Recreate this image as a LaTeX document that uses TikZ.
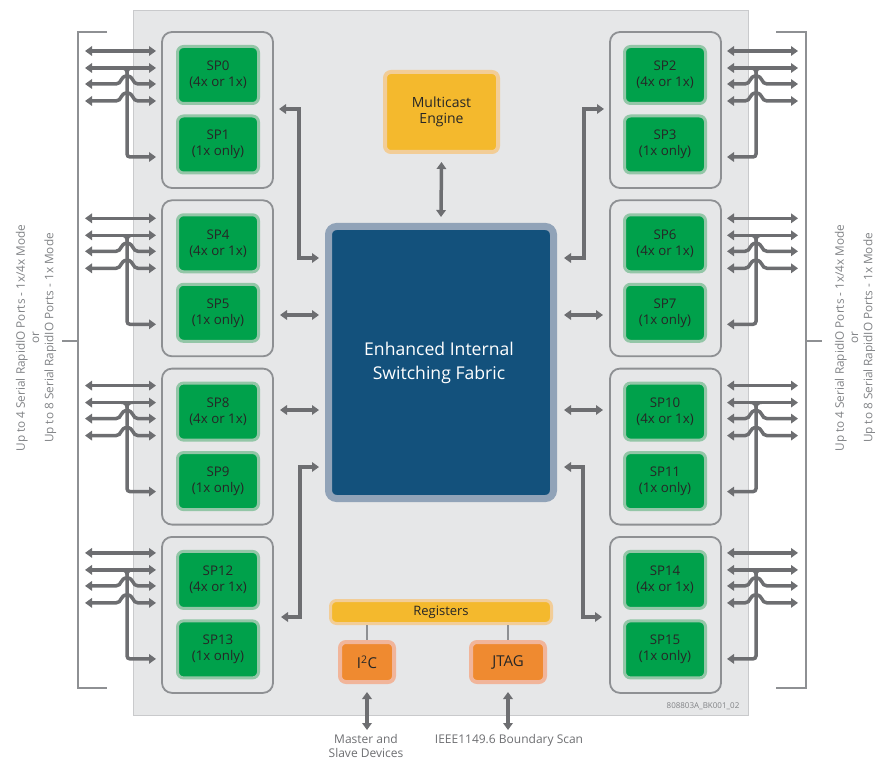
\documentclass[tikz,border=0pt]{standalone}
\usepackage{fontspec}
\setmainfont{Open Sans}
\usetikzlibrary{arrows.meta,calc}
\definecolor{bgc}{HTML}{E6E7E8}
\definecolor{bgline}{HTML}{C9CACC}
\definecolor{grpline}{HTML}{8E9093}
\definecolor{arrc}{HTML}{6D6E71}
\definecolor{greenin}{HTML}{00A14B}
\definecolor{greenbd}{HTML}{93C6A7}
\definecolor{fabin}{HTML}{13517C}
\definecolor{fabbd}{HTML}{91A3B8}
\definecolor{yelin}{HTML}{F4B92D}
\definecolor{yelbd}{HTML}{F2CD97}
\definecolor{orin}{HTML}{EF8A30}
\definecolor{orbd}{HTML}{F1B59A}
\definecolor{txtgray}{HTML}{808285}
\definecolor{darktxt}{HTML}{262626}
\newcommand\portbus[1]{%
  \draw[dconn] (85,#1) -- (156,#1);
  \draw[dconn] (85,#1+17) -- (156,#1+17);
  \draw[dconn] (85,#1+33) -- (116,#1+33) .. controls (122,#1+33) and (120,#1+25) .. (127,#1+25) .. controls (134,#1+25) and (132,#1+33) .. (138,#1+33) -- (156,#1+33);
  \draw[dconn] (85,#1+50) -- (116,#1+50) .. controls (122,#1+50) and (120,#1+42) .. (127,#1+42) .. controls (134,#1+42) and (132,#1+50) .. (138,#1+50) -- (156,#1+50);
  \draw[conn,->,rounded corners=3pt] (127,#1+17) -- (127,#1+106) -- (156,#1+106);
  \draw[conn,line width=2.5pt] (120,#1+17) .. controls (125,#1+17) and (127,#1+19) .. (127,#1+24);
  \draw[conn,line width=2.5pt] (134,#1+17) .. controls (129,#1+17) and (127,#1+19) .. (127,#1+24);
}
\begin{document}
\begin{tikzpicture}[x=1pt,y=-1pt, >={Triangle[length=7pt,width=9.5pt]},
 conn/.style={draw=arrc, line width=3.5pt},
 dconn/.style={conn,<->},
 grp/.style={draw=grpline, line width=1.8pt, rounded corners=10pt, fill=bgc, minimum width=111pt, minimum height=156pt, inner sep=0pt},
 spbox/.style={draw=greenbd, fill=greenin, line width=3pt, rounded corners=6pt, minimum width=81pt, minimum height=57pt, inner sep=0pt, align=center, text=darktxt, font=\fontsize{13.3}{16}\selectfont},
 fabbox/.style={draw=fabbd, fill=fabin, line width=7pt, rounded corners=8pt, minimum width=225pt, minimum height=272pt, inner sep=0pt},
 ylbox/.style={draw=yelbd, fill=yelin, line width=4pt, rounded corners=6pt, inner sep=0pt, align=center, text=darktxt},
 orbox/.style={draw=orbd, fill=orin, line width=4pt, rounded corners=6pt, inner sep=0pt, align=center, text=darktxt, minimum height=40pt, font=\fontsize{15}{17}\selectfont},
 bracket/.style={draw=grpline, line width=1.5pt},
 sidetxt/.style={text=txtgray, align=center, inner sep=0pt, font=\fontsize{11.8}{14.3}\selectfont},
 undertxt/.style={text=arrc, align=center, inner sep=0pt, font=\fontsize{12}{14}\selectfont}
]
\useasboundingbox (0,0) rectangle (875,759);
% background
\node[draw=bgline, fill=bgc, line width=1pt, minimum width=615pt, minimum height=705pt, inner sep=0pt] (bg) at (441,363) {};
% brackets
\draw[bracket] (107,32) -- (78,32) -- (78,688) -- (107,688);
\draw[bracket] (78,341) -- (62,341);
\draw[bracket] (776,32) -- (806,32) -- (806,688) -- (776,688);
\draw[bracket] (806,341) -- (822,341);
\node[sidetxt, rotate=90] (lblL) at (36,338) {Up to 4 Serial RapidIO Ports - 1x/4x Mode\\or\\Up to 8 Serial RapidIO Ports - 1x Mode};
\node[sidetxt, rotate=90] (lblR) at (855,338) {Up to 4 Serial RapidIO Ports - 1x/4x Mode\\or\\Up to 8 Serial RapidIO Ports - 1x Mode};
% groups and SPs
\foreach \k in {0,1,2,3} {
  \pgfmathsetmacro{\gt}{31+168.3*\k}
  \pgfmathtruncatemacro{\na}{4*\k}
  \pgfmathtruncatemacro{\nb}{4*\k+1}
  \pgfmathtruncatemacro{\nc}{4*\k+2}
  \pgfmathtruncatemacro{\nd}{4*\k+3}
  \node[grp] (gL\k) at (217.5,\gt+79) {};
  \node[grp] (gR\k) at (665.5,\gt+79) {};
  \node[spbox] (sp\na) at (218,\gt+44) {SP\na\\(4x or 1x)};
  \node[spbox] (sp\nb) at (218,\gt+113.5) {SP\nb\\(1x only)};
  \node[spbox] (sp\nc) at (665,\gt+44) {SP\nc\\(4x or 1x)};
  \node[spbox] (sp\nd) at (665,\gt+113.5) {SP\nd\\(1x only)};
}
% port buses
\foreach \k in {0,1,2,3} {
  \pgfmathsetmacro{\pa}{51+167.3*\k}
  \portbus{\pa}
  \begin{scope}[shift={(883,0)}, xscale=-1]
    \portbus{\pa}
  \end{scope}
}
% fabric
\node[fabbox] (fab) at (441,362.5) {};
\node[text=white, align=center, font=\fontsize{17.6}{24}\selectfont, inner sep=0pt] (fabtxt) at (439,363) {Enhanced Internal\\Switching Fabric};
% multicast
\node[ylbox, minimum width=113pt, minimum height=80pt, font=\fontsize{14}{15.5}\selectfont] (mc) at (441.5,112) {Multicast\\Engine};
\draw[dconn] ($(mc.south)+(0,8)$) -- ($(fab.north)+(0,-6)$);
% fabric connectors
\draw[dconn] (279,109) -- (299,109) -- (299,258) -- (319,258);
\draw[dconn] (604,109) -- (584,109) -- (584,258) -- (564,258);
\draw[dconn] (280,315) -- (319,315);
\draw[dconn] (603,315) -- (564,315);
\draw[dconn] (280,410) -- (319,410);
\draw[dconn] (603,410) -- (564,410);
\draw[dconn] (281,617) -- (300,617) -- (300,467) -- (319,467);
\draw[dconn] (602,617) -- (583,617) -- (583,467) -- (564,467);
% registers
\node[ylbox, line width=3pt, minimum width=221pt, minimum height=23pt, font=\fontsize{13}{15}\selectfont] (reg) at (441,612) {Registers};
\node[orbox, minimum width=54pt] (i2c) at (367,662) {I\textsuperscript{2}C};
\node[orbox, minimum width=74pt] (jtag) at (508,662) {JTAG};
\draw[draw=grpline, line width=1.5pt] (reg.south -| i2c) -- (i2c.north);
\draw[draw=grpline, line width=1.5pt] (reg.south -| jtag) -- (jtag.north);
\draw[dconn] ($(i2c.south)+(0,8)$) -- ($(i2c.south)+(0,46)$);
\draw[dconn] ($(jtag.south)+(0,8)$) -- ($(jtag.south)+(0,46)$);
\node[undertxt] (msd) at (366,745.5) {Master and\\Slave Devices};
\node[undertxt] (ieee) at (509,740) {IEEE1149.6 Boundary Scan};
\node[text=txtgray, inner sep=0pt, font=\fontsize{8}{9}\selectfont] (code) at (703,706) {808803A\_BK001\_02};
\end{tikzpicture}
\end{document}
